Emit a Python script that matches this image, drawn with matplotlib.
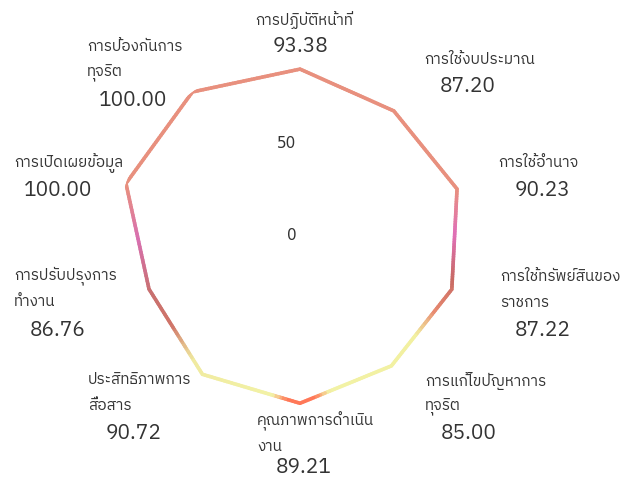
import matplotlib
matplotlib.use('Agg')
import matplotlib.pyplot as plt
from matplotlib import font_manager
from matplotlib.collections import LineCollection
from matplotlib.colors import LinearSegmentedColormap
from matplotlib.ft2font import FT2Font
import numpy as np

# --- data ---
categories = [
    'การปฏิบัติหน้าที่',
    'การใช้งบประมาณ',
    'การใช้อำนาจ',
    'การใช้ทรัพย์สินของ\nราชการ',
    'การแก้ไขปัญหาการ\nทุจริต',
    'คุณภาพการดำเนิน\nงาน',
    'ประสิทธิภาพการ\nสื่อสาร',
    'การปรับปรุงการ\nทำงาน',
    'การเปิดเผยข้อมูล',
    'การป้องกันการ\nทุจริต',
]
values = [93.38, 87.20, 90.23, 87.22, 85.00, 89.21, 90.72, 86.76, 100.00, 100.00]
r_ticks = [0, 50]
r_max = 100

# label placement in pixels: (name left x, first line y), (value centre x, y)
name_pos = [(255, 20), (424, 60), (498, 163), (500, 277), (425, 381),
            (257, 421), (88, 380), (14, 276), (14, 163), (87, 47)]
value_pos = [(300, 46), (468, 86), (543, 190), (543, 331), (469, 433),
             (304, 467), (134, 433), (58, 330), (58, 190), (133, 100)]


def find_thai_font():
    fonts = sorted(font_manager.fontManager.ttflist,
                   key=lambda f: 'Thai' not in f.name)
    for f in fonts:
        try:
            if 0x0E01 in FT2Font(f.fname).get_charmap():
                return f.name
        except Exception:
            pass
    return 'DejaVu Sans'


thai_font = find_thai_font()
plt.rcParams['font.family'] = [thai_font, 'DejaVu Sans']

W, H = 638, 486
fig = plt.figure(figsize=(W / 100, H / 100), dpi=100)
fig.patch.set_facecolor('white')

cx, cy, R = 300, 240, 183
ax = fig.add_axes([(cx - R) / W, (H - cy - R) / H, 2 * R / W, 2 * R / H],
                  projection='polar')
ax.set_theta_zero_location('N')
ax.set_theta_direction(-1)
ax.set_ylim(0, r_max)
ax.set_axis_off()

# --- gradient outline ---
n = len(values)
theta = np.arange(n) * 2 * np.pi / n
r = np.array(values)
xs = np.append(r * np.cos(theta), r[0] * np.cos(theta[0]))
ys = np.append(r * np.sin(theta), r[0] * np.sin(theta[0]))

steps = 40
px, py, tt = [], [], []
for i in range(n):
    f = np.linspace(0, 1, steps, endpoint=False)
    px.extend(xs[i] + (xs[i + 1] - xs[i]) * f)
    py.extend(ys[i] + (ys[i + 1] - ys[i]) * f)
    tt.extend(i + f)
px.append(xs[0]); py.append(ys[0]); tt.append(n)
px, py, tt = np.array(px), np.array(py), np.array(tt)
pth = np.arctan2(py, px)
pr = np.hypot(px, py)
pts = np.column_stack([pth, pr]).reshape(-1, 1, 2)
segs = np.concatenate([pts[:-1], pts[1:]], axis=1)

cmap = LinearSegmentedColormap.from_list('outline', [
    (0.00, '#e8907e'), (0.20, '#e8907e'), (0.245, '#e070b8'),
    (0.29, '#c86a64'), (0.33, '#e88a70'), (0.36, '#f2f0a0'),
    (0.47, '#f2f2a6'), (0.485, '#ff7858'), (0.515, '#ff7858'),
    (0.53, '#f2f2a6'), (0.62, '#f0eaa0'), (0.66, '#d07468'),
    (0.70, '#c87070'), (0.75, '#d870b0'), (0.80, '#e8907e'),
    (1.00, '#e8907e')])
mid = (tt[:-1] + tt[1:]) / 2 / n
lc = LineCollection(segs, colors=cmap(mid), linewidths=2.6,
                    capstyle='round', joinstyle='round')
ax.add_collection(lc)

# radial tick labels
for t in r_ticks:
    ax.annotate(str(t), xy=(0, t), xytext=(-2.5, 3.5), textcoords='offset points',
                ha='right', va='center', fontsize=11, color='#333333',
                family='DejaVu Sans')

# --- category labels ---
for name, val, (nx, ny), (vx, vy) in zip(categories, values, name_pos, value_pos):
    for k, line in enumerate(name.split('\n')):
        fig.text(nx / W, 1 - (ny + 26 * k) / H, line, ha='left', va='center',
                 fontsize=11, color='#333333')
    fig.text(vx / W, 1 - vy / H, f'{val:.2f}', ha='center', va='center',
             fontsize=15, color='#333333')

fig.savefig('out.png', dpi=100, facecolor='white')
